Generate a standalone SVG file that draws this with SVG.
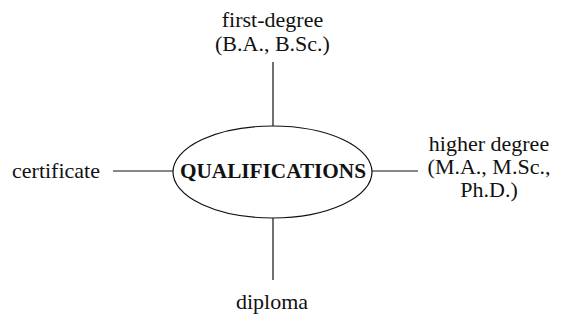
<svg xmlns="http://www.w3.org/2000/svg" width="561" height="322" viewBox="0 0 561 322">
<style>
.t{font-family:"Liberation Serif","Times New Roman",serif;font-size:22px;fill:#111;text-anchor:middle}
.b{font-family:"Liberation Serif","Times New Roman",serif;font-size:20px;font-weight:bold;fill:#111;text-anchor:middle}
.l{stroke:#111;stroke-width:1.2;fill:none}
</style>
<rect width="561" height="322" fill="#fff"/>
<g id="connectors">
<line class="l" x1="273" y1="62" x2="273" y2="126"/>
<line class="l" x1="273" y1="218" x2="273" y2="280"/>
<line class="l" x1="113" y1="171" x2="173" y2="171"/>
<line class="l" x1="372" y1="171" x2="418" y2="171"/>
</g>
<g id="qualifications">
<ellipse class="l" cx="272.5" cy="172" rx="99.5" ry="46"/>
<text class="b" x="273" y="178" textLength="186" lengthAdjust="spacingAndGlyphs">QUALIFICATIONS</text>
</g>
<g id="first-degree">
<text class="t" x="272.5" y="27">first-degree</text>
<text class="t" x="272.5" y="51">(B.A., B.Sc.)</text>
</g>
<g id="higher-degree">
<text class="t" x="489" y="151">higher degree</text>
<text class="t" x="489" y="174">(M.A., M.Sc.,</text>
<text class="t" x="489" y="197">Ph.D.)</text>
</g>
<g id="certificate">
<text class="t" x="56" y="178">certificate</text>
</g>
<g id="diploma">
<text class="t" x="272" y="309">diploma</text>
</g>
</svg>
